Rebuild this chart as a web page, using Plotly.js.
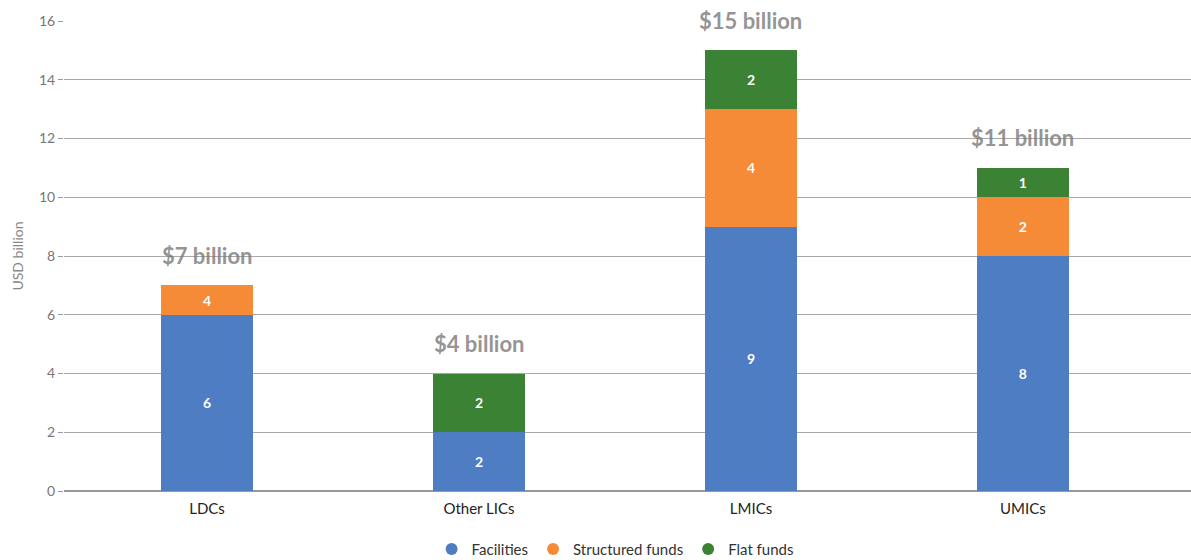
<!DOCTYPE html>
<html>
<head>
<meta charset="utf-8">
<script src="https://cdn.plot.ly/plotly-3.0.1.min.js"></script>
<style>html,body{margin:0;padding:0;background:#fff;}#chart{width:1191px;height:560px;}</style>
</head>
<body>
<div id="chart"></div>
<script>
const categories = ["LDCs", "Other LICs", "LMICs", "UMICs"];
const facilities = [6, 2, 9, 8];
const structuredFunds = [1, 0, 4, 2];
const flatFunds = [0, 2, 2, 1];
const facilitiesLabels = ["6", "2", "9", "8"];
const structuredLabels = ["4", "", "4", "2"];
const flatLabels = ["", "2", "2", "1"];
const totalLabels = ["$7 billion", "$4 billion", "$15 billion", "$11 billion"];
const totals = [7, 4, 15, 11];
const seriesNames = ["Facilities", "Structured funds", "Flat funds"];
const yTicks = [0, 2, 4, 6, 8, 10, 12, 14, 16];

const colors = ["#4f7dc4", "#f68b37", "#3b8234"];
const font = "Lato, 'Open Sans', sans-serif";

function barTrace(vals, labels, i) {
  return {
    type: "bar", x: categories, y: vals, text: labels, name: seriesNames[i],
    texttemplate: "%{text}", textposition: "inside", insidetextanchor: "middle",
    textfont: {color: "#ffffff", size: 14, family: font, weight: 700},
    marker: {color: colors[i]}, showlegend: false, hoverinfo: "skip"
  };
}
function legendTrace(i) {
  return {
    type: "scatter", mode: "markers", x: [null], y: [null], name: seriesNames[i],
    marker: {color: colors[i], size: 12, symbol: "circle"}, hoverinfo: "skip"
  };
}

const data = [
  barTrace(facilities, facilitiesLabels, 0),
  barTrace(structuredFunds, structuredLabels, 1),
  barTrace(flatFunds, flatLabels, 2),
  legendTrace(0), legendTrace(1), legendTrace(2)
];

const annotations = categories.map((c, i) => ({
  x: c, y: totals[i], xref: "x", yref: "y", text: "<b>" + totalLabels[i] + "</b>",
  showarrow: false, yanchor: "middle", yshift: 30,
  font: {size: 22, color: "rgba(120,120,120,0.8)", family: font}
}));

const layout = {
  width: 1191, height: 560,
  margin: {l: 64, r: 0, t: 21, b: 69, autoexpand: false},
  barmode: "stack", bargap: 0.66,
  paper_bgcolor: "#ffffff", plot_bgcolor: "#ffffff",
  font: {family: font},
  xaxis: {
    type: "category", range: [-0.526, 3.618],
    tickfont: {size: 15, color: "#222222", family: font},
    ticklabelstandoff: 7,
    showgrid: false, showline: false, ticks: "", fixedrange: true, automargin: false
  },
  yaxis: {
    range: [0, 16], tickvals: yTicks, ticktext: yTicks.map(String),
    tickfont: {size: 14, color: "#777777", family: font},
    ticks: "outside", ticklen: 5, tickcolor: "#999999", tickwidth: 1,
    showgrid: true, gridcolor: "#a8a8a8", gridwidth: 1,
    zeroline: true, zerolinecolor: "#999999", zerolinewidth: 2,
    title: {text: "USD billion", font: {size: 14, color: "#888888", family: font}, standoff: 12},
    fixedrange: true, automargin: false
  },
  legend: {
    orientation: "h", x: 0.489, xanchor: "center", y: -0.124, yanchor: "middle",
    traceorder: "normal",
    font: {size: 15, color: "#333333", family: font}, itemwidth: 30
  },
  annotations: annotations,
  showlegend: true
};

Plotly.newPlot("chart", data, layout, {displayModeBar: false, staticPlot: true});
</script>
</body>
</html>
